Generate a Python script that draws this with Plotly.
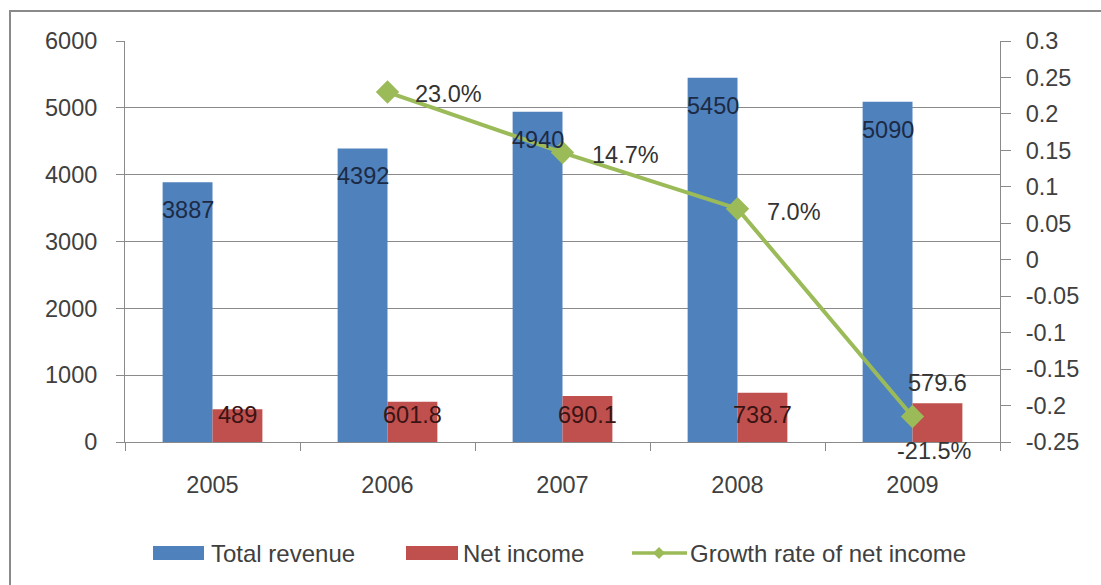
import plotly.graph_objects as go

years = ["2005", "2006", "2007", "2008", "2009"]
total_revenue = [3887, 4392, 4940, 5450, 5090]
net_income = [489, 601.8, 690.1, 738.7, 579.6]
growth_rate = [None, 0.23, 0.147, 0.07, -0.215]
growth_labels = [None, "23.0%", "14.7%", "7.0%", "-21.5%"]
left_ticks = [0, 1000, 2000, 3000, 4000, 5000, 6000]
right_ticks = [0.3, 0.25, 0.2, 0.15, 0.1, 0.05, 0, -0.05, -0.1, -0.15, -0.2, -0.25]
right_tick_text = ["0.3", "0.25", "0.2", "0.15", "0.1", "0.05", "0",
                   "-0.05", "-0.1", "-0.15", "-0.2", "-0.25"]
legend_names = ["Total revenue", "Net income", "Growth rate of net income"]

BLUE = "#4F81BD"
RED = "#C0504D"
GREEN = "#9BBB59"
GRID = "#8a8a8a"
TXT = "#404040"
FONT = "Liberation Sans, Arial, sans-serif"
FS = 23.5

xpos = list(range(len(years)))

fig = go.Figure()
fig.add_trace(go.Bar(x=xpos, y=total_revenue, name=legend_names[0],
                     marker=dict(color=BLUE, line=dict(width=0)), yaxis="y",
                     showlegend=False))
fig.add_trace(go.Bar(x=xpos, y=net_income, name=legend_names[1],
                     marker=dict(color=RED, line=dict(width=0)), yaxis="y",
                     showlegend=False))
fig.add_trace(go.Scatter(x=xpos, y=growth_rate, name=legend_names[2],
                         mode="lines+markers", yaxis="y2",
                         line=dict(color=GREEN, width=4),
                         marker=dict(symbol="diamond", size=18, color=GREEN),
                         showlegend=False))

ann = []
# total revenue labels (inside end)
for x, v in zip(xpos, total_revenue):
    ann.append(dict(x=x, y=v, xref="x", yref="y", text=f"{v:g}", showarrow=False,
                    xshift=-25, yshift=-28, font=dict(size=FS, color="#1c2a44", family=FONT)))
# net income labels
red_dy = [-6, -13, -19, -22, 20]
for x, v, dy in zip(xpos, net_income, red_dy):
    ann.append(dict(x=x, y=v, xref="x", yref="y", text=f"{v:g}", showarrow=False,
                    xshift=25, yshift=dy,
                    font=dict(size=FS, color="#3a1414" if dy < 0 else "#333", family=FONT)))
# growth labels
g_off = [None, (25, -2, "left"), (27, -2, "left"), (27, -3, "left"), (22, -35, "center")]
for x, v, lab, off in zip(xpos, growth_rate, growth_labels, g_off):
    if v is None:
        continue
    xs, ys, anc = off
    ann.append(dict(x=x, y=v, xref="x", yref="y2", text=lab, showarrow=False,
                    xanchor=anc, xshift=xs, yshift=ys,
                    font=dict(size=FS, color="#333", family=FONT)))

# custom legend (paper coords: x = (px-125)/875, y = (442-py)/401)
def px2x(px):
    return (px - 125) / 875.0

def py2y(py):
    return (442 - py) / 401.0

shapes = []
leg_y = py2y(553)
shapes.append(dict(type="rect", xref="paper", yref="paper", x0=px2x(153), x1=px2x(204),
                   y0=py2y(560), y1=py2y(546), fillcolor=BLUE, line=dict(width=0)))
shapes.append(dict(type="rect", xref="paper", yref="paper", x0=px2x(406), x1=px2x(458),
                   y0=py2y(560), y1=py2y(546), fillcolor=RED, line=dict(width=0)))
shapes.append(dict(type="line", xref="paper", yref="paper", x0=px2x(632), x1=px2x(687),
                   y0=leg_y, y1=leg_y, line=dict(color=GREEN, width=3.5)))
shapes.append(dict(type="path", xref="paper", yref="paper",
                   path=(f"M {px2x(653)} {leg_y} L {px2x(659)} {py2y(547)} "
                         f"L {px2x(665)} {leg_y} L {px2x(659)} {py2y(559)} Z"),
                   fillcolor=GREEN, line=dict(width=0)))
for name, lx in zip(legend_names, [209, 461, 688]):
    ann.append(dict(x=px2x(lx), y=leg_y, xref="paper", yref="paper", text=name,
                    showarrow=False, xanchor="left", yanchor="middle",
                    font=dict(size=24, color=TXT, family=FONT)))

# outer frame
shapes.append(dict(type="rect", xref="paper", yref="paper",
                   x0=px2x(10), x1=px2x(1103), y0=py2y(592), y1=py2y(11),
                   line=dict(color="#8a8a8a", width=2), fillcolor="rgba(0,0,0,0)",
                   layer="below"))

fig.update_layout(
    width=1101, height=585,
    margin=dict(l=125, r=101, t=41, b=143),
    paper_bgcolor="white", plot_bgcolor="white",
    barmode="group", bargap=0.43, bargroupgap=0,
    font=dict(family=FONT, size=FS, color=TXT),
    xaxis=dict(range=[-0.5, len(years) - 0.5], tickvals=xpos, ticktext=years,
               showline=True, linecolor=GRID, linewidth=1,
               ticks="", ticklabelstandoff=22, showgrid=False, zeroline=False,
               minor=dict(tick0=-0.5, dtick=1, ticks="outside", ticklen=8,
                          tickcolor=GRID, showgrid=False),
               tickfont=dict(size=FS, color=TXT)),
    yaxis=dict(range=[0, 6000], tickvals=left_ticks, showgrid=True, gridcolor=GRID,
               gridwidth=1, showline=True, linecolor=GRID, ticks="outside",
               ticklen=8, tickcolor=GRID, ticklabelstandoff=14, zeroline=False,
               tickfont=dict(size=FS, color=TXT)),
    yaxis2=dict(range=[-0.25, 0.3], tickvals=right_ticks, ticktext=right_tick_text,
                overlaying="y", side="right",
                showgrid=False, showline=True, linecolor=GRID, ticks="outside",
                ticklen=10, tickcolor=GRID, ticklabelstandoff=10, zeroline=False,
                tickfont=dict(size=FS, color=TXT)),
    annotations=ann,
    shapes=shapes,
    showlegend=False,
)

fig.write_html("out.html")
